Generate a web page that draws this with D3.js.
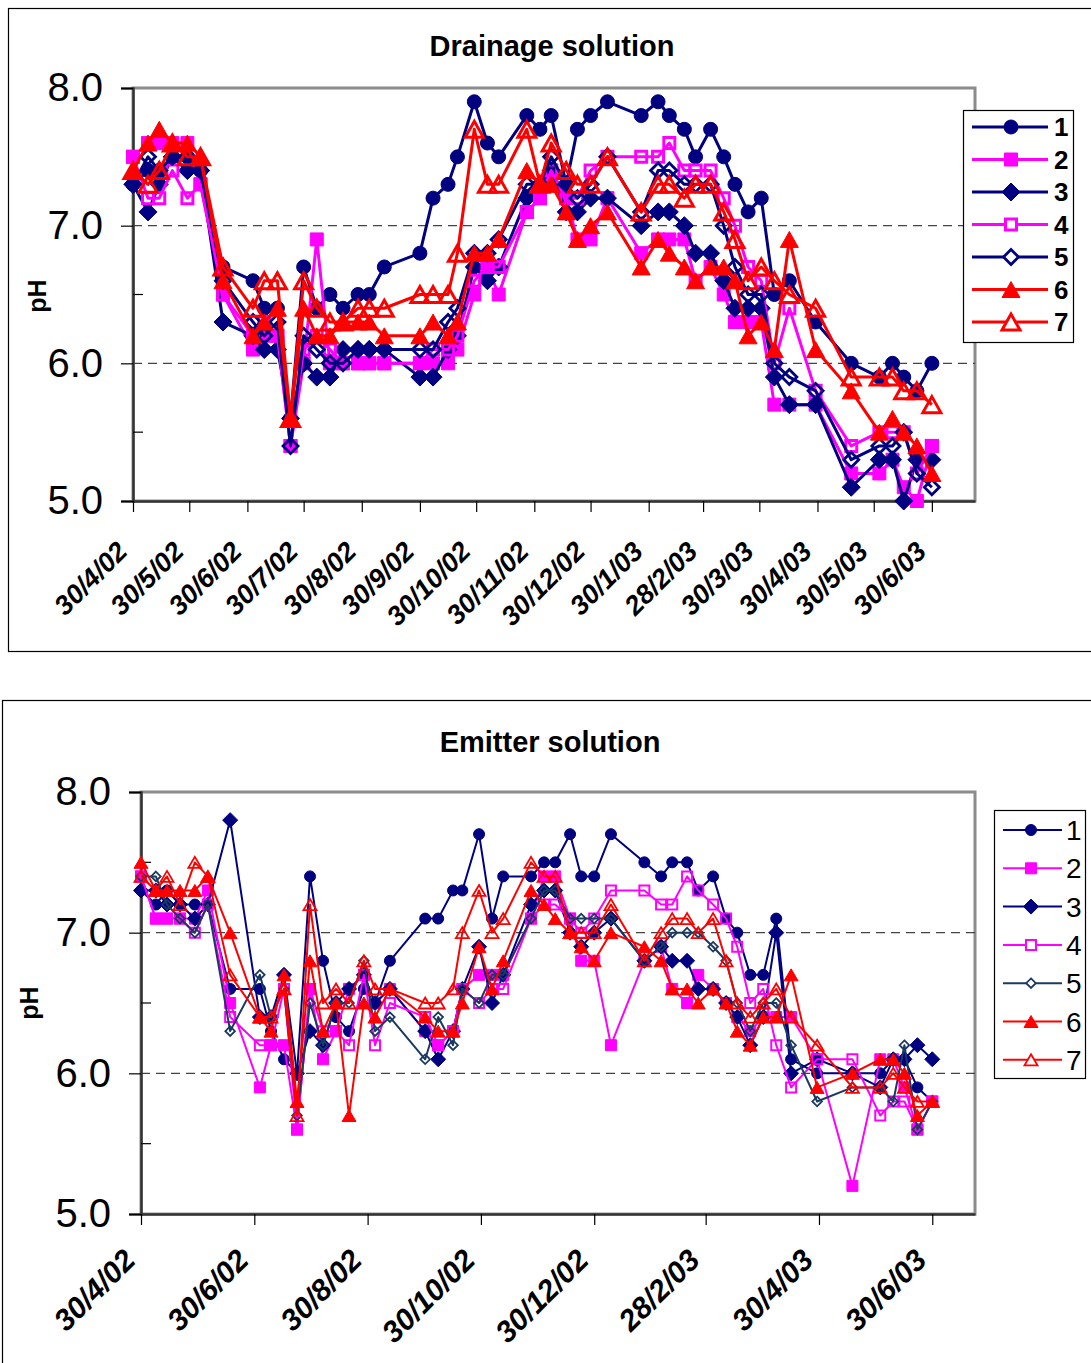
<!DOCTYPE html>
<html>
<head>
<meta charset="utf-8">
<script src="https://cdn.jsdelivr.net/npm/d3@7"></script>
<style>
  html, body { margin: 0; padding: 0; background: #fff; }
  svg { display: block; font-family: "Liberation Sans", Arial, sans-serif; }
</style>
</head>
<body>
<svg id="chart" width="1091" height="1363"></svg>
<script>
// Sampling dates shared by both panels
const sampleDates = [
  "2002-04-30","2002-05-08","2002-05-14","2002-05-21","2002-05-29","2002-06-05",
  "2002-06-17","2002-07-03","2002-07-09","2002-07-16","2002-07-23","2002-07-30",
  "2002-08-06","2002-08-13","2002-08-20","2002-08-28","2002-09-03","2002-09-11",
  "2002-09-30","2002-10-07","2002-10-15","2002-10-20","2002-10-29","2002-11-05",
  "2002-11-11","2002-11-26","2002-12-03","2002-12-09","2002-12-17","2002-12-23",
  "2002-12-30","2003-01-08","2003-01-26","2003-02-04","2003-02-10","2003-02-18",
  "2003-02-24","2003-03-04","2003-03-11","2003-03-17","2003-03-24","2003-03-31",
  "2003-04-07","2003-04-15","2003-04-29","2003-05-18","2003-06-02","2003-06-09",
  "2003-06-15","2003-06-22","2003-06-30"
];

const seriesNames = ["1", "2", "3", "4", "5", "6", "7"];

// Drainage solution pH
const drainage1 = [7.3,7.4,7.4,7.5,7.5,7.4, 6.7,6.6,6.4,6.4,5.6,6.7, 6.4,6.5,6.4,6.5,6.5,6.7, 6.8,7.2,7.3,7.5,7.9,7.6, 7.5,7.8,7.7,7.8,7.3,7.7, 7.8,7.9,7.8,7.9,7.8,7.7, 7.5,7.7,7.5,7.3,7.1,7.2, 6.5,6.6,6.3,6.0,5.9,6.0, 5.9,5.8,6.0];
const drainage2 = [7.5,7.6,7.6,7.6,7.6,7.3, 6.5,6.1,6.2,6.2,5.4,6.0, 6.9,6.0,6.0,6.0,6.0,6.0, 6.0,6.0,6.0,6.1,6.5,6.7, 6.5,7.1,7.2,7.4,7.2,6.9, 6.9,7.2,6.8,6.9,6.9,6.9, 6.6,6.7,6.5,6.3,6.3,6.3, 5.7,5.7,5.7,5.2,5.2,5.3, 5.1,5.0,5.4];
const drainage3 = [7.3,7.1,7.3,7.5,7.4,7.4, 6.3,6.2,6.1,6.1,5.6,6.0, 5.9,5.9,6.1,6.1,6.1,6.1, 5.9,5.9,6.1,6.2,6.7,6.6, 6.7,7.2,7.3,7.4,7.1,7.1, 7.2,7.2,7.0,7.1,7.1,7.0, 6.8,6.8,6.6,6.4,6.4,6.4, 5.9,5.7,5.7,5.1,5.3,5.3, 5.0,5.3,5.3];
const drainage4 = [7.5,7.2,7.2,7.4,7.2,7.3, 6.5,6.2,6.3,6.2,5.4,6.1, 6.2,6.1,6.0,6.0,6.0,6.0, 6.0,6.1,6.1,6.2,6.6,6.7, 6.7,7.1,7.2,7.4,7.2,7.2, 7.4,7.5,7.5,7.5,7.6,7.4, 7.4,7.4,7.2,7.0,6.7,6.6, 6.0,6.4,5.8,5.4,5.5,5.5, 5.5,5.2,5.4];
const drainage5 = [7.3,7.5,7.4,7.5,7.5,7.4, 6.6,6.3,6.2,6.3,5.4,6.2, 6.1,6.0,6.0,6.1,6.1,6.1, 6.1,6.1,6.3,6.4,6.8,6.8, 6.9,7.3,7.3,7.5,7.3,7.2, 7.3,7.5,7.1,7.4,7.4,7.3, 7.3,7.3,7.0,6.7,6.5,6.5, 6.0,5.9,5.8,5.3,5.4,5.4, 5.5,5.2,5.1];
const drainage6 = [7.4,7.6,7.7,7.6,7.6,7.5, 6.6,6.2,6.3,6.4,5.6,6.4, 6.2,6.2,6.3,6.3,6.3,6.2, 6.2,6.3,6.2,6.3,6.8,6.8, 6.9,7.4,7.3,7.3,7.1,6.9, 7.0,7.1,6.7,6.9,6.8,6.7, 6.6,6.7,6.7,6.6,6.2,6.3, 6.1,6.9,6.1,5.8,5.5,5.6, 5.5,5.4,5.2];
const drainage7 = [7.4,7.3,7.4,7.6,7.5,7.5, 6.7,6.4,6.6,6.6,5.6,6.6, 6.4,6.3,6.3,6.4,6.4,6.4, 6.5,6.5,6.5,6.8,7.7,7.3, 7.3,7.7,7.3,7.6,7.4,7.3, 7.3,7.5,7.1,7.3,7.3,7.2, 7.3,7.3,7.1,6.9,6.6,6.7, 6.6,6.5,6.4,5.9,5.9,5.9, 5.8,5.8,5.7];

// Emitter solution pH
const emitter1 = [7.3,7.2,7.3,7.2,7.2,7.2, 6.6,6.6,6.3,6.1,6.0,7.4, 6.8,6.4,6.3,6.6,6.5,6.8, 7.1,7.1,7.3,7.3,7.7,7.1, 7.4,7.4,7.5,7.5,7.7,7.4, 7.4,7.7,7.5,7.4,7.5,7.5, 7.3,7.4,7.1,7.0,6.7,6.7, 7.1,6.1,6.0,6.0,6.0,6.1, 6.1,5.9,5.8];
const emitter2 = [7.4,7.1,7.1,7.1,7.1,7.3, 6.5,5.9,6.2,6.2,5.6,6.6, 6.1,6.3,6.6,6.7,6.5,6.6, 6.3,6.2,6.3,6.6,6.7,6.7, 6.7,7.1,7.4,7.4,7.1,6.8, 6.8,6.2,6.8,6.9,6.6,6.5, 6.7,6.6,6.5,6.4,6.3,6.4, 6.4,6.4,6.1,5.2,6.1,6.1, 5.9,5.6,5.8];
const emitter3 = [7.3,7.3,7.2,7.2,7.1,7.2, 7.8,6.4,6.4,6.7,6.0,6.3, 6.2,6.5,6.6,6.7,6.5,6.6, 6.3,6.1,6.3,6.6,6.9,6.5, 6.7,7.2,7.3,7.3,7.0,6.9, 7.0,7.1,6.8,6.9,6.8,6.8, 6.6,6.6,6.5,6.4,6.2,6.4, 7.0,6.0,6.1,6.0,5.9,6.1, 6.1,6.2,6.1];
const emitter4 = [7.4,7.1,7.1,7.1,7.0,7.2, 6.4,6.2,6.2,6.6,5.6,6.6, 6.3,6.3,6.2,6.7,6.2,6.5, 6.4,6.2,6.3,6.6,6.5,6.6, 6.6,7.1,7.2,7.2,7.1,7.0, 7.1,7.3,7.3,7.2,7.2,7.4, 7.3,7.2,7.1,6.9,6.5,6.6, 6.2,5.9,6.1,6.1,5.7,5.8, 5.8,5.6,5.8];
const emitter5 = [7.4,7.4,7.2,7.1,7.0,7.2, 6.3,6.7,6.4,6.6,5.7,6.5, 6.2,6.5,6.5,6.8,6.3,6.4, 6.1,6.4,6.2,6.6,6.5,6.7, 6.7,7.1,7.3,7.3,7.1,7.1, 7.1,7.1,6.8,6.9,7.0,7.0, 7.0,6.9,6.8,6.5,6.3,6.5, 6.5,6.2,5.8,5.9,5.9,5.8, 6.2,5.6,5.8];
const emitter6 = [7.5,7.3,7.3,7.3,7.3,7.4, 7.0,6.4,6.3,6.7,5.8,6.8, 6.3,6.5,5.7,6.5,6.4,6.6, 6.4,6.3,6.3,6.5,6.9,6.6, 6.8,7.3,7.2,7.1,7.0,6.9, 6.8,7.0,6.9,6.8,6.6,6.6, 6.5,6.6,6.5,6.3,6.2,6.4, 6.4,6.7,5.9,6.0,6.1,6.1, 6.0,5.7,5.8];
const emitter7 = [7.4,7.3,7.4,7.2,7.5,7.4, 6.7,6.4,6.4,6.6,5.7,7.2, 6.5,6.6,6.5,6.8,6.6,6.6, 6.5,6.5,6.6,7.0,7.3,7.0, 7.1,7.5,7.4,7.4,7.0,7.0, 7.0,7.2,6.8,7.0,7.1,7.1, 7.0,7.1,6.8,6.5,6.4,6.5, 6.6,6.4,6.2,5.9,5.9,6.0, 5.9,5.8,5.8];

// Axis ticks
const drainageTicks = ["2002-04-30","2002-05-30","2002-06-30","2002-07-30","2002-08-30","2002-09-30","2002-10-30",
  "2002-11-30","2002-12-30","2003-01-30","2003-02-28","2003-03-30","2003-04-30","2003-05-30","2003-06-30"];
const emitterTicks = ["2002-04-30","2002-06-30","2002-08-30","2002-10-30","2002-12-30","2003-02-28","2003-04-30","2003-06-30"];
const yMajorTicks = [5, 6, 7, 8];
const yMinorTicks = [5.5, 6.5, 7.5];
const dateDomain = ["2002-04-30", "2003-07-23"];

const parse = d3.utcParse("%Y-%m-%d");
const fmtDate = d => `${d.getUTCDate()}/${d.getUTCMonth() + 1}/${String(d.getUTCFullYear()).slice(2)}`;

const svg = d3.select("#chart");

const NAVY = "#000080", MAG = "#FF00FF", RED = "#FF0000";

function markerPath(shape, s) {
  if (shape === "circle") return d3.symbol(d3.symbolCircle, Math.PI * s.r * s.r)();
  if (shape === "square") return `M${-s.h},${-s.h}H${s.h}V${s.h}H${-s.h}Z`;
  if (shape === "diamond") return `M0,${-s.w}L${s.w},0L0,${s.w}L${-s.w},0Z`;
  // triangle, apex up, centred on its box
  return `M0,${-s.th / 2}L${s.tw / 2},${s.th / 2}L${-s.tw / 2},${s.th / 2}Z`;
}

function drawPanel(cfg) {
  const g = svg.append("g");

  // outer frame
  g.append("rect").attr("x", cfg.frame[0]).attr("y", cfg.frame[1])
    .attr("width", cfg.frame[2]).attr("height", cfg.frame[3])
    .attr("fill", "none").attr("stroke", "#000").attr("stroke-width", 1.2);

  const x = d3.scaleUtc().domain(dateDomain.map(parse)).range([cfg.left, cfg.right]);
  const y = d3.scaleLinear().domain([5, 8]).range([cfg.bottom, cfg.top]);

  // plot area border
  g.append("rect").attr("x", cfg.left).attr("y", cfg.top)
    .attr("width", cfg.right - cfg.left).attr("height", cfg.bottom - cfg.top)
    .attr("fill", "#fff").attr("stroke", "#8c8c8c").attr("stroke-width", 3);

  // dashed grid lines
  g.selectAll(".grid").data([6, 7]).join("line")
    .attr("x1", cfg.left).attr("x2", cfg.right)
    .attr("y1", d => y(d)).attr("y2", d => y(d))
    .attr("stroke", "#444").attr("stroke-width", 1.2).attr("stroke-dasharray", "9,6");

  // y axis: major ticks outside, minor ticks inside
  const yAxis = d3.axisLeft(y).tickValues(yMajorTicks).tickFormat(d3.format(".1f")).tickSize(12).tickPadding(18);
  const ya = g.append("g").attr("transform", `translate(${cfg.left},0)`).call(yAxis);
  ya.select(".domain").attr("stroke", "#333").attr("stroke-width", 2.5);
  ya.selectAll(".tick line").attr("stroke", "#000").attr("stroke-width", 1.2);
  ya.selectAll(".tick text").attr("font-size", cfg.yFont).attr("fill", "#000")
    .attr("font-family", "'Liberation Sans', Arial, sans-serif");
  g.selectAll(".minor").data(yMinorTicks).join("line")
    .attr("x1", cfg.left).attr("x2", cfg.left + 10)
    .attr("y1", d => y(d)).attr("y2", d => y(d))
    .attr("stroke", "#000").attr("stroke-width", 1.2);

  // x axis
  const ticks = cfg.ticks.map(parse);
  const xAxis = d3.axisBottom(x).tickValues(ticks).tickFormat("").tickSize(11).tickSizeOuter(0);
  const xa = g.append("g").attr("transform", `translate(0,${cfg.bottom})`).call(xAxis);
  xa.select(".domain").attr("stroke", "#333").attr("stroke-width", 2.5);
  xa.selectAll(".tick line").attr("stroke", "#000").attr("stroke-width", 1.2);

  g.selectAll(".xlab").data(ticks).join("text")
    .attr("transform", d => `translate(${x(d) + cfg.xLabDx},${cfg.bottom + cfg.xLabDy}) rotate(-45)`)
    .attr("text-anchor", "end")
    .attr("font-size", cfg.xFont).attr("font-weight", "bold").attr("font-style", "italic")
    .text(fmtDate);

  // title and y label
  g.append("text").attr("x", cfg.titleX).attr("y", cfg.titleY).attr("text-anchor", "middle")
    .attr("font-size", 29).attr("font-weight", "bold").text(cfg.title);
  g.append("text").attr("transform", `translate(${cfg.yLabelX},${cfg.yLabelY}) rotate(-90)`)
    .attr("text-anchor", "middle").attr("font-size", 25).attr("font-weight", "bold").text("pH");

  // series
  const dates = sampleDates.map(parse);
  const line = d3.line().x(d => x(d.date)).y(d => y(d.v));
  cfg.series.forEach((vals, i) => {
    const st = cfg.styles[i];
    const pts = vals.map((v, j) => ({ date: dates[j], v })).filter(d => d.v != null);
    g.append("path").datum(pts).attr("d", line)
      .attr("fill", "none").attr("stroke", st.color).attr("stroke-width", cfg.lineWidth)
      .attr("stroke-linejoin", "round");
    g.append("g").selectAll("path").data(pts).join("path")
      .attr("transform", d => `translate(${x(d.date)},${y(d.v)})`)
      .attr("d", markerPath(st.shape, st.size))
      .attr("fill", st.filled ? st.color : "none")
      .attr("stroke", st.color)
      .attr("stroke-width", st.filled ? 1 : st.sw);
  });

  // legend
  const L = cfg.legend;
  g.append("rect").attr("x", L.x).attr("y", L.y).attr("width", L.w).attr("height", L.h)
    .attr("fill", "#fff").attr("stroke", "#000").attr("stroke-width", 1.2);
  seriesNames.forEach((name, i) => {
    const st = cfg.styles[i];
    const ry = L.row0 + i * L.step;
    g.append("line").attr("x1", L.lx1).attr("x2", L.lx2).attr("y1", ry).attr("y2", ry)
      .attr("stroke", st.color).attr("stroke-width", cfg.lineWidth);
    g.append("path").attr("transform", `translate(${L.mx},${ry})`)
      .attr("d", markerPath(st.shape, st.size))
      .attr("fill", st.filled ? st.color : "#fff")
      .attr("stroke", st.color).attr("stroke-width", st.filled ? 1 : st.sw);
    g.append("text").attr("x", L.tx).attr("y", ry).attr("dy", "0.36em")
      .attr("font-size", L.font).attr("font-weight", L.bold ? "bold" : "normal").text(name);
  });
}

drawPanel({
  title: "Drainage solution",
  frame: [8.5, 8.5, 1100, 643],
  left: 133, right: 975, top: 88, bottom: 501,
  ticks: drainageTicks,
  titleX: 552, titleY: 56, yLabelX: 46, yLabelY: 296,
  yFont: 40, xFont: 27, xLabDx: -4, xLabDy: 52,
  lineWidth: 3,
  series: [drainage1, drainage2, drainage3, drainage4, drainage5, drainage6, drainage7],
  styles: [
    { color: NAVY, shape: "circle", filled: true, size: { r: 7 } },
    { color: MAG, shape: "square", filled: true, size: { h: 6.5 } },
    { color: NAVY, shape: "diamond", filled: true, size: { w: 9 } },
    { color: MAG, shape: "square", filled: false, size: { h: 5.5 }, sw: 3 },
    { color: NAVY, shape: "diamond", filled: false, size: { w: 7.5 }, sw: 2.8 },
    { color: RED, shape: "triangle", filled: true, size: { tw: 18, th: 16 } },
    { color: RED, shape: "triangle", filled: false, size: { tw: 18, th: 16 }, sw: 3 }
  ],
  legend: { x: 963.5, y: 110.5, w: 110, h: 232, row0: 127, step: 32.5, lx1: 972, lx2: 1048, mx: 1011, tx: 1054, font: 26, bold: true }
});

drawPanel({
  title: "Emitter solution",
  frame: [2.5, 700.5, 1100, 700],
  left: 141, right: 975, top: 792, bottom: 1214,
  ticks: emitterTicks,
  titleX: 550, titleY: 752, yLabelX: 38, yLabelY: 1003,
  yFont: 40, xFont: 30, xLabDx: -4, xLabDy: 48,
  lineWidth: 2,
  series: [emitter1, emitter2, emitter3, emitter4, emitter5, emitter6, emitter7],
  styles: [
    { color: NAVY, shape: "circle", filled: true, size: { r: 5.5 } },
    { color: MAG, shape: "square", filled: true, size: { h: 5.5 } },
    { color: NAVY, shape: "diamond", filled: true, size: { w: 7.5 } },
    { color: MAG, shape: "square", filled: false, size: { h: 5 }, sw: 2 },
    { color: "#1a3a60", shape: "diamond", filled: false, size: { w: 4.8 }, sw: 1.8 },
    { color: RED, shape: "triangle", filled: true, size: { tw: 14, th: 12 } },
    { color: RED, shape: "triangle", filled: false, size: { tw: 13, th: 11 }, sw: 1.8 }
  ],
  legend: { x: 994.5, y: 810.5, w: 91, h: 268, row0: 830, step: 38.3, lx1: 1003, lx2: 1062, mx: 1031, tx: 1066, font: 28, bold: false }
});
</script>
</body>
</html>
